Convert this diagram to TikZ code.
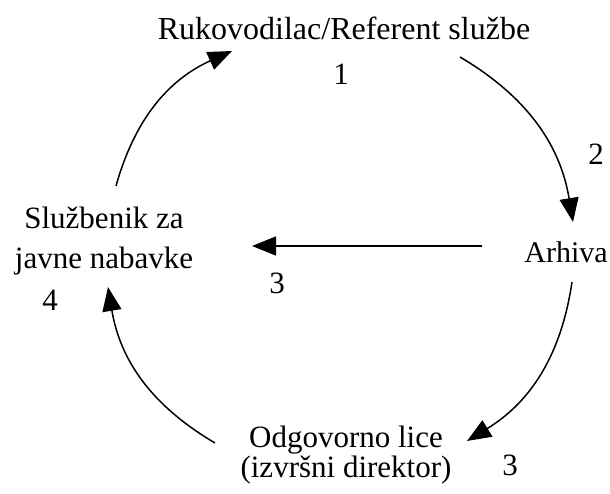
\documentclass[tikz,border=0pt]{standalone}
\usepackage{fontspec}
\setmainfont{Liberation Serif}
\usetikzlibrary{arrows.meta}
\begin{document}
\begin{tikzpicture}[x=1pt,y=1pt,
  lbl/.style={inner sep=0pt, font=\fontsize{31}{40}\selectfont, align=center},
  arr/.style={line width=1.5pt, -{Triangle[length=24pt,width=19pt]}}]
\useasboundingbox (0,0) rectangle (610,493);
\node[lbl, anchor=base, font=\fontsize{32}{40}\selectfont] (ruk) at (344,453) {Rukovodilac/Referent službe};
\node[lbl] (n1) at (341,419) {1};
\node[lbl] (n2) at (596,339) {2};
\node[lbl, anchor=base, font=\fontsize{30}{40}\selectfont] (arh) at (566,230) {Arhiva};
\node[lbl] (slu) at (104,252) {Službenik za\\javne nabavke};
\node[lbl] (n4) at (50,193) {4};
\node[lbl] (n3a) at (277,210) {3};
\node[lbl, font=\fontsize{31}{30}\selectfont] (odg) at (346,38) {Odgovorno lice\\(izvršni direktor)};
\node[lbl] (n3b) at (510,28) {3};
\coordinate (a1s) at (116,307); \coordinate (a1e) at (232,442);
\coordinate (a2s) at (460,436); \coordinate (a2e) at (573,271);
\coordinate (a3s) at (482,247); \coordinate (a3e) at (252,247);
\coordinate (a4s) at (572,211); \coordinate (a4e) at (467,52);
\coordinate (a5s) at (215,50);  \coordinate (a5e) at (108,206);
\draw[arr] (a1s) to[bend left=25] (a1e);
\draw[arr] (a2s) to[bend left=25] (a2e);
\draw[arr] (a3s) -- (a3e);
\draw[arr] (a4s) to[bend left=25] (a4e);
\draw[arr] (a5s) to[bend left=25] (a5e);
\end{tikzpicture}
\end{document}
